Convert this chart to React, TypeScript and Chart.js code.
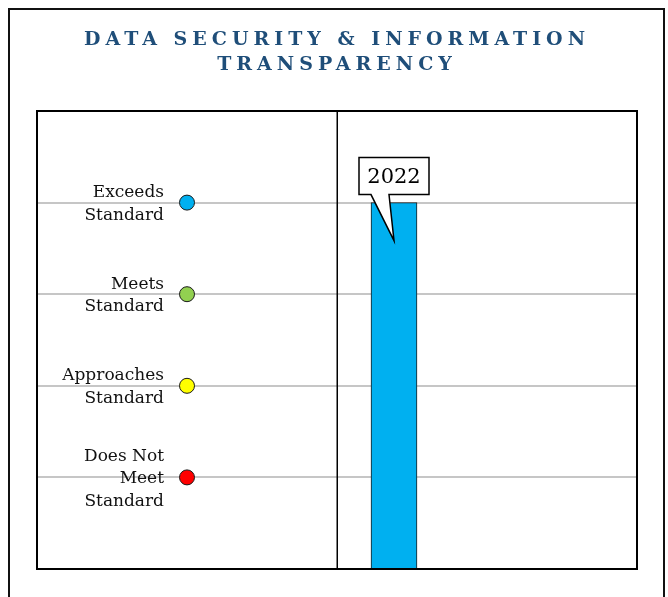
import React, { useEffect, useRef } from "react";
import { Chart, registerables } from "chart.js";

Chart.register(...registerables);

const titleLines = ["DATA SECURITY & INFORMATION", "TRANSPARENCY"];
const levelValues = [1, 2, 3, 4];
const levelLabels = [
  ["Does Not", "Meet", "Standard"],
  ["Approaches", "Standard"],
  ["Meets", "Standard"],
  ["Exceeds", "Standard"],
];
const levelColors = ["#ff0000", "#ffff00", "#92d050", "#00b0f0"];
const legendColumn = 0.5;
const dividerValue = 1;
const years = ["2022"];
const yearScores = [4];
const yearPositions = [1.19];

const W = 657;
const H = 589;
const SERIF = "'DejaVu Serif', serif";

const spacingPlugin = {
  id: "spacing",
  beforeDraw(chart: any) {
    const ctx = chart.ctx;
    ctx.save();
    ctx.strokeStyle = "#111";
    ctx.lineWidth = 2;
    ctx.strokeRect(1, 1, W - 2, H + 20);
    ctx.restore();
    (ctx as any).letterSpacing = "5px";
  },
  beforeDatasetsDraw(chart: any) {
    const ctx = chart.ctx;
    (ctx as any).letterSpacing = "0px";
    const { top, bottom } = chart.chartArea;
    const xs = chart.scales.x;
    ctx.save();
    ctx.strokeStyle = "#000";
    ctx.lineWidth = 1.5;
    const dx = Math.round(xs.getPixelForValue(dividerValue)) + 0.25;
    ctx.beginPath();
    ctx.moveTo(dx, top);
    ctx.lineTo(dx, bottom);
    ctx.stroke();
    ctx.restore();
  },
  afterDatasetsDraw(chart: any) {
    const ctx = chart.ctx;
    const xs = chart.scales.x;
    const ys = chart.scales.y;
    const { left, right, top, bottom } = chart.chartArea;
    ctx.save();
    ctx.strokeStyle = "#000";
    ctx.lineWidth = 2;
    ctx.strokeRect(left, top, right - left, bottom - top);
    ctx.fillStyle = "#111";
    ctx.font = `17px ${SERIF}`;
    ctx.textAlign = "right";
    ctx.textBaseline = "middle";
    const lx = xs.getPixelForValue(legendColumn) - 23;
    const lh = 22.5;
    levelLabels.forEach((lines, i) => {
      const cy = ys.getPixelForValue(levelValues[i]) + 1.5;
      const y0 = cy - ((lines.length - 1) * lh) / 2;
      lines.forEach((t, j) => ctx.fillText(t, lx, y0 + j * lh));
    });
    const meta = chart.getDatasetMeta(0);
    meta.data.forEach((el: any, i: number) => {
      const x = el.x;
      const y = el.y;
      const bw = 70;
      const bh = 37;
      const bBottom = y - 8;
      const bTop = bBottom - bh;
      const bl = x - bw / 2;
      const br = x + bw / 2;
      ctx.beginPath();
      ctx.moveTo(bl, bTop);
      ctx.lineTo(br, bTop);
      ctx.lineTo(br, bBottom);
      ctx.lineTo(x - 5, bBottom);
      ctx.lineTo(x, y + 38);
      ctx.lineTo(x - 23, bBottom);
      ctx.lineTo(bl, bBottom);
      ctx.closePath();
      ctx.fillStyle = "#fff";
      ctx.fill();
      ctx.strokeStyle = "#000";
      ctx.lineWidth = 1.5;
      ctx.stroke();
      ctx.fillStyle = "#000";
      ctx.font = `21px ${SERIF}`;
      ctx.textAlign = "center";
      ctx.textBaseline = "middle";
      ctx.fillText(years[i], x, bTop + bh / 2 + 1);
    });
    ctx.restore();
  },
};

export default function App() {
  const ref = useRef<HTMLCanvasElement>(null);
  useEffect(() => {
    document.documentElement.style.overflow = "hidden";
    document.body.style.marginRight = "0px";
    document.body.style.marginBottom = "0px";
    const root = document.getElementById("root");
    if (root) root.style.width = W + "px";
    if (!ref.current) return;
    const chart = new Chart(ref.current, {
      type: "bar",
      data: {
        datasets: [
          {
            type: "bar",
            label: "Score",
            data: years.map((_, i) => ({ x: yearPositions[i], y: yearScores[i] })),
            backgroundColor: "#00b0f0",
            borderColor: "#1a1a1a",
            borderWidth: 1,
            barThickness: 46,
          } as any,
          {
            type: "scatter",
            label: "Levels",
            data: levelValues.map((v) => ({ x: legendColumn, y: v })),
            pointRadius: 7.5,
            pointBackgroundColor: levelColors,
            pointBorderColor: "#1a1a1a",
            pointBorderWidth: 1,
            showLine: false,
          } as any,
        ],
      },
      options: {
        responsive: false,
        animation: false,
        events: [],
        layout: { padding: { left: 29, right: 28, top: 0, bottom: 28 } },
        plugins: {
          legend: { display: false },
          tooltip: { enabled: false },
          title: {
            display: true,
            text: titleLines,
            color: "#1f4e79",
            font: { family: SERIF, weight: "bold", size: 19, lineHeight: 24.5 / 19 },
            padding: { top: 20.25, bottom: 33.75 },
          },
        },
        scales: {
          x: { type: "linear", min: 0, max: 2, display: false, offset: false },
          y: {
            type: "linear",
            min: 0,
            max: 5,
            display: true,
            ticks: { display: false, stepSize: 1 },
            border: { display: false },
            grid: {
              drawTicks: false,
              tickLength: 0,
              lineWidth: 2,
              color: (c: any) =>
                c.tick && c.tick.value > 0 && c.tick.value < 5 ? "#c6c6c6" : "rgba(0,0,0,0)",
            },
          },
        },
      },
      plugins: [spacingPlugin],
    });
    return () => chart.destroy();
  }, []);
  return (
    <div style={{ width: W, height: H }}>
      <canvas ref={ref} width={W} height={H} style={{ display: "block", width: W, height: H }} />
    </div>
  );
}
